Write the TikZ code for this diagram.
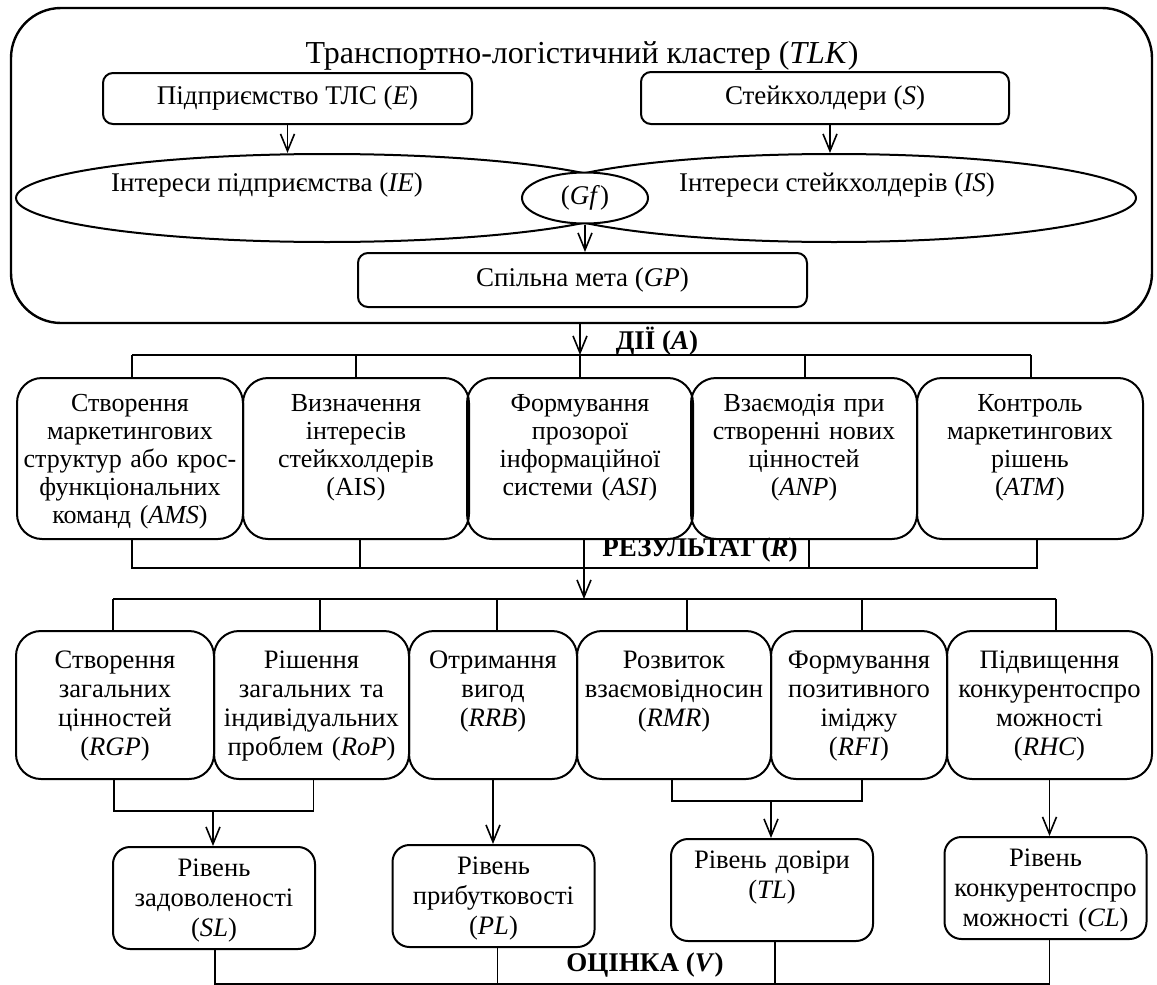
\documentclass[tikz,border=0pt]{standalone}
\usepackage{fontspec}
\setmainfont{Liberation Serif}
\usepackage{tikz}
\usetikzlibrary{shapes.geometric, arrows.meta, positioning}

\begin{document}
\begin{tikzpicture}[
    x=0.5pt, y=-0.5pt,
    % box styles
    topbox/.style={draw, line width=1pt, rounded corners=5pt, align=center, font=\fontsize{13.5}{15}\selectfont},
    ell/.style={draw, ellipse, line width=1pt, inner sep=0pt},
    elltxt/.style={font=\fontsize{13.5}{15}\selectfont},
    actbox/.style={draw, line width=1pt, rounded corners=12.5pt, anchor=north, align=center, inner xsep=2pt, inner ysep=2pt, text width=109pt, text height=14.5pt, text depth=62pt, font=\fontsize{13}{14}\selectfont},
    resbox/.style={draw, line width=1pt, rounded corners=12.5pt, anchor=north, align=center, inner xsep=2pt, inner ysep=2pt, text height=16.5pt, text depth=53.5pt, font=\fontsize{13.3}{14.6}\selectfont},
    evalbox/.style={draw, line width=1pt, rounded corners=8.5pt, anchor=north, align=center, inner xsep=2pt, inner ysep=2pt, text width=97pt, text height=12.5pt, text depth=34.5pt, font=\fontsize{13.3}{15}\selectfont},
    headlbl/.style={font=\fontsize{13.5}{15}\selectfont\bfseries},
    arr/.style={-{Straight Barb[length=8.5pt,width=7pt]}, line width=0.8pt},
    line/.style={line width=0.8pt}
]
\useasboundingbox (0,0) rectangle (1157,985);

% ---------------- cluster ----------------
\node[draw, line width=1.2pt, rounded corners=25pt, minimum width=570.5pt, minimum height=157.5pt] (tlk) at (581.5,165.5) {};
\node[anchor=base, font=\fontsize{16}{18}\selectfont] (title) at (582,63) {Транспортно-логістичний кластер (\textit{TLK})};

\node[topbox, minimum width=184.5pt, minimum height=25.5pt] (E) at (287.5,98.5) {Підприємство ТЛС (\textit{E})};
\node[topbox, minimum width=184pt, minimum height=26pt] (S) at (825,98) {Стейкхолдери (\textit{S})};

\node[ell, minimum width=311pt, minimum height=44pt] (IE) at (327,198) {};
\node[ell, minimum width=302pt, minimum height=44pt] (IS) at (834,198) {};
\node[ell, fill=white, minimum width=63pt, minimum height=25.5pt, elltxt] (Gf) at (585,198) {(\textit{Gf})};
\node[elltxt] (IEtxt) at (267,185) {Інтереси підприємства (\textit{IE})};
\node[elltxt] (IStxt) at (837,185) {Інтереси стейкхолдерів (\textit{IS})};

\node[topbox, minimum width=224.5pt, minimum height=27pt] (GP) at (582.5,280) {Спільна мета (\textit{GP})};

\draw[arr] (E.south) -- (E.south |- IE.north);
\draw[arr] ([xshift=2.5pt]S.south) -- ([xshift=2.5pt]S.south |- IS.north);
\draw[arr] (Gf.south) -- (Gf.south |- GP.north);

% ---------------- actions ----------------
\coordinate (abus) at (580,355);
\draw[arr] (tlk.south -| abus) -- (abus);
\node[headlbl] (A) at (657,341) {ДІЇ (\textit{A})};

\node[actbox] (AMS) at (130,377) {Створення\\маркетингових\\структур або крос-\\функціональних\\команд (\textit{AMS})};
\node[actbox] (AIS) at (356,377) {Визначення\\інтересів\\стейкхолдерів\\(AIS)};
\node[actbox] (ASI) at (580,377) {Формування\\прозорої\\інформаційної\\системи (\textit{ASI})};
\node[actbox] (ANP) at (804,377) {Взаємодія при\\створенні нових\\цінностей\\(\textit{ANP})};
\node[actbox] (ATM) at (1030,377) {Контроль\\маркетингових\\рішень\\(\textit{ATM})};

\draw[line] ([xshift=1pt]AMS.north |- abus) -- ([xshift=0.5pt]ATM.north |- abus);
\foreach \b/\dx in {AMS/1pt, AIS/0pt, ASI/0pt, ANP/0.5pt, ATM/0.5pt}
  \draw[line] ([xshift=\dx]\b.north |- abus) -- ([xshift=\dx]\b.north);

% ---------------- results ----------------
\coordinate (rbus1) at (132,568);
\coordinate (rbus2) at (1037,568);
\coordinate (rbus) at (584,599);
\draw[line] (rbus1 |- AMS.south) -- (rbus1) -- (rbus2) -- (rbus2 |- ATM.south);
\draw[line] ([xshift=2pt]AIS.south) -- ([xshift=2pt]AIS.south |- rbus1);
\draw[line] ([xshift=2.5pt]ANP.south) -- ++(0,27);
\draw[arr] (ASI.south -| rbus) -- (rbus);
\node[headlbl] (R) at (700,550) {РЕЗУЛЬТАТ (\textit{R})};

\node[resbox, text width=95pt] (RGP) at (115,630) {Створення\\загальних\\цінностей\\(\textit{RGP})};
\node[resbox, text width=93.5pt] (RoP) at (311.5,630) {Рішення\\загальних та\\індивідуальних\\проблем (\textit{RoP})};
\node[resbox, text width=80pt] (RRB) at (493,630) {Отримання\\вигод\\(\textit{RRB})};
\node[resbox, text width=93pt] (RMR) at (674,630) {Розвиток\\взаємовідносин\\(\textit{RMR})};
\node[resbox, text width=84pt] (RFI) at (859,630) {Формування\\позитивного\\іміджу\\(\textit{RFI})};
\node[resbox, text width=98.5pt] (RHC) at (1049.5,630) {Підвищення\\конкурентоспро\\можності\\(\textit{RHC})};

\coordinate (r1) at (113,599);
\coordinate (r2) at (320,599);
\coordinate (r3) at (497,599);
\coordinate (r4) at (687,599);
\coordinate (r5) at (862,599);
\coordinate (r6) at (1056,599);
\draw[line] (r1) -- (r6);
\foreach \c/\b in {r1/RGP, r2/RoP, r3/RRB, r4/RMR, r5/RFI, r6/RHC}
  \draw[line] (\c) -- (\c |- \b.north);

% ---------------- evaluation ----------------
\node[evalbox] (SL) at (214,846) {Рівень\\задоволеності\\(\textit{SL})};
\node[evalbox] (PL) at (493.5,844) {Рівень\\прибутковості\\(\textit{PL})};
\node[evalbox] (TL) at (772,838) {Рівень довіри\\(\textit{TL})};
\node[evalbox] (CL) at (1045.5,836) {Рівень\\конкурентоспро\\можності (\textit{CL})};

\coordinate (sbus) at (213,811);
\coordinate (tbus) at (771,801);
\draw[line] ([xshift=-0.5pt]RGP.south) |- (sbus) -| ([xshift=1pt]RoP.south);
\draw[arr] (sbus) -- (sbus |- SL.north);
\draw[arr] (RRB.south) -- (RRB.south |- PL.north);
\draw[line] ([xshift=-1pt]RMR.south) |- (tbus) -| ([xshift=1.5pt]RFI.south);
\draw[arr] (tbus) -- (tbus |- TL.north);
\draw[arr] (RHC.south) -- (RHC.south |- CL.north);

\coordinate (vbus) at (0,984);
\draw[line] ([xshift=0.5pt]SL.south) -- ([xshift=0.5pt]SL.south |- vbus) -- ([xshift=2pt]CL.south |- vbus) -- ([xshift=2pt]CL.south);
\draw[line] ([xshift=2pt]PL.south) -- ([xshift=2pt]PL.south |- vbus);
\draw[line] ([xshift=1.5pt]TL.south) -- ([xshift=1.5pt]TL.south |- vbus);
\node[headlbl] (V) at (645,965) {ОЦІНКА (\textit{V})};

\end{tikzpicture}
\end{document}
